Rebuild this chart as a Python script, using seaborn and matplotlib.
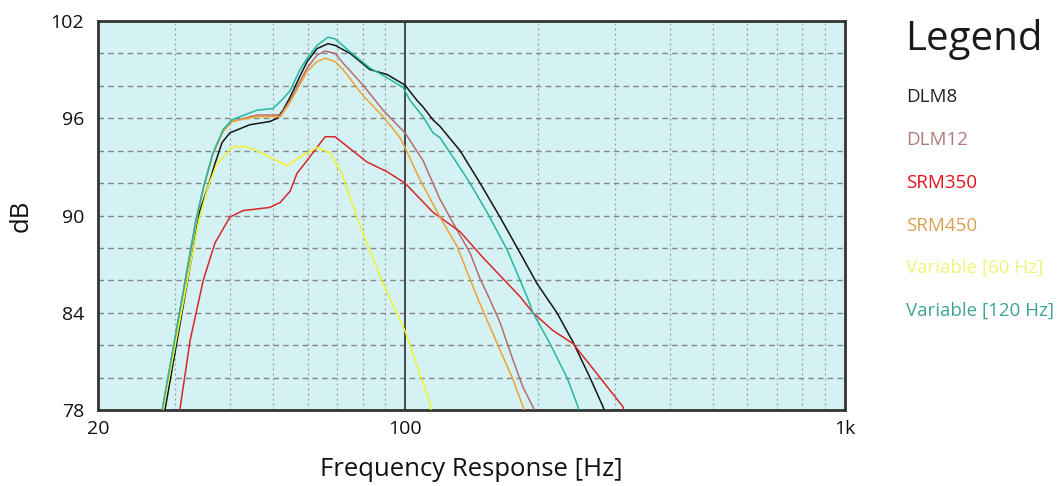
import numpy as np
import pandas as pd
import matplotlib
matplotlib.use("Agg")
import matplotlib.pyplot as plt
import seaborn as sns

# ---------------- data ----------------
series_names = ["DLM8", "DLM12", "SRM350", "SRM450", "Variable [60 Hz]", "Variable [120 Hz]"]

dlm8_f = [28.4, 34.1, 35.6, 36.9, 38.3, 39.9, 44.3, 49.2, 51.1, 52.7, 54.7, 57.6, 59.8, 63.0, 66.7,
          69.2, 74.9, 83.1, 90.9, 99.8, 106.3, 109.7, 115.6, 119.9, 133.2, 147.9, 164.2, 182.3,
          199.3, 221.2, 240.6, 263.0, 281.6, 284.0]
dlm8_db = [78.0, 90.3, 91.8, 93.2, 94.5, 95.1, 95.6, 95.8, 96.0, 96.5, 97.3, 98.6, 99.5, 100.3, 100.6,
           100.5, 100.0, 99.0, 98.7, 98.05, 97.1, 96.7, 95.9, 95.5, 94.0, 92.0, 89.9, 87.7,
           85.8, 84.0, 82.2, 80.0, 78.2, 77.9]

dlm12_f = [28.0, 33.4, 34.8, 36.5, 38.5, 40.3, 46.0, 52.0, 54.7, 59.8, 63.0, 65.7, 69.2, 72.2,
           80.1, 89.0, 99.8, 109.7, 119.9, 131.1, 140.3, 147.9, 155.8, 164.2, 175.7, 185.2, 195.1, 197.0]
dlm12_db = [78.0, 89.7, 91.8, 93.8, 95.2, 95.8, 96.2, 96.2, 97.1, 99.1, 99.9, 100.15, 100.0, 99.4,
            98.05, 96.5, 95.1, 93.4, 91.0, 89.1, 87.7, 86.1, 84.8, 83.4, 81.1, 79.4, 78.2, 77.9]

srm350_f = [30.7, 32.4, 34.7, 36.9, 39.9, 42.7, 49.2, 51.9, 54.7, 56.7, 59.8, 65.7, 69.2,
            81.8, 90.9, 99.8, 115.6, 133.2, 150.2, 182.3, 195.1, 216.7, 240.6, 277.2, 312.6, 315.0]
srm350_db = [78.0, 82.3, 86.0, 88.3, 89.9, 90.3, 90.5, 90.8, 91.5, 92.6, 93.4, 94.86, 94.86,
             93.3, 92.7, 92.0, 90.2, 89.0, 87.4, 85.0, 84.0, 82.9, 82.1, 80.0, 78.2, 77.9]

srm450_f = [28.0, 33.4, 34.8, 36.5, 38.5, 40.3, 46.0, 52.0, 54.7, 59.8, 63.0, 65.7, 69.2, 72.2,
            80.1, 89.0, 97.3, 99.8, 108.0, 119.9, 131.1, 146.5, 164.2, 175.7, 185.2, 187.0]
srm450_db = [78.0, 89.7, 91.8, 93.8, 95.2, 95.8, 96.1, 96.1, 97.0, 98.9, 99.5, 99.7, 99.5, 99.0,
             97.4, 96.1, 94.8, 94.2, 92.2, 89.9, 88.1, 84.8, 81.7, 79.9, 78.2, 77.9]

var60_f = [28.1, 33.9, 35.6, 37.3, 40.6, 43.6, 46.7, 53.8, 57.6, 63.0, 67.4, 71.8, 74.9, 78.1,
           80.1, 89.0, 99.8, 113.8, 114.5]
var60_db = [78.0, 89.7, 91.8, 93.2, 94.25, 94.25, 93.9, 93.07, 93.6, 94.2, 93.85, 92.6, 91.1, 89.7,
            88.9, 85.8, 82.9, 78.4, 77.9]

var120_f = [28.0, 33.4, 34.8, 36.5, 38.5, 40.3, 46.0, 50.0, 52.7, 54.7, 57.6, 59.8, 63.0, 66.7,
            69.2, 74.9, 83.1, 90.9, 98.8, 102.5, 109.7, 115.6, 119.9, 128.4, 140.3, 153.4, 170.3,
            189.1, 195.1, 213.3, 233.2, 247.0, 249.0]
var120_db = [78.0, 89.7, 91.8, 93.85, 95.3, 95.9, 96.5, 96.6, 97.2, 97.7, 99.0, 99.7, 100.5, 101.0,
             100.9, 100.1, 99.1, 98.5, 97.9, 97.1, 96.1, 95.1, 94.8, 93.6, 92.0, 90.2, 87.9,
             85.0, 84.0, 82.1, 80.0, 78.2, 77.9]

line_colors = ["#151515", "#B86C6C", "#D8262A", "#F0A232", "#F2F228", "#22B8A2"]
text_colors = ["#222222", "#B07A78", "#E5101C", "#D9A055", "#EEF47A", "#3DA594"]

x_ticks = [20, 100, 1000]
x_tick_labels = ["20", "100", "1k"]
y_ticks = [78, 84, 90, 96, 102]

# ---------------- build long-form table ----------------
all_f = [dlm8_f, dlm12_f, srm350_f, srm450_f, var60_f, var120_f]
all_db = [dlm8_db, dlm12_db, srm350_db, srm450_db, var60_db, var120_db]
frames = []
for name, f, d in zip(series_names, all_f, all_db):
    frames.append(pd.DataFrame({"freq": f, "db": d, "series": name}))
df = pd.concat(frames, ignore_index=True)

# ---------------- figure ----------------
sns.set_style("white")
plt.rcParams['font.family'] = ['Open Sans', 'DejaVu Sans']

fig = plt.figure(figsize=(10.59, 4.86), dpi=100)
ax = fig.add_axes([98 / 1059, 1 - 410 / 486, 747 / 1059, 389 / 486])
ax.set_facecolor("#D4F2F3")

# grid
for yv in range(80, 102, 2):
    ax.axhline(yv, color="#858585", lw=1.0, dashes=(4, 3), zorder=1)
minor_x = [30, 40, 50, 60, 70, 80, 90, 200, 300, 400, 500, 600, 700, 800, 900]
for xv in minor_x:
    ax.axvline(xv, color="#9a9a9a", lw=0.9, dashes=(1.5, 2.5), zorder=1)
ax.axvline(100, color="#3c3c3c", lw=1.3, zorder=1)

sns.lineplot(data=df, x="freq", y="db", hue="series", hue_order=series_names,
             palette=dict(zip(series_names, line_colors)), legend=False,
             estimator=None, ax=ax, linewidth=1.1, zorder=3)

ax.set_xscale("log")
ax.set_xlim(20, 1000)
ax.set_ylim(78, 102)
ax.set_xticks(x_ticks)
ax.set_xticklabels(x_tick_labels)
ax.xaxis.set_minor_locator(matplotlib.ticker.NullLocator())
ax.set_yticks(y_ticks)
ax.set_yticklabels([str(v) for v in y_ticks])
ax.tick_params(axis="both", length=0, labelsize=14, colors="#111111")
ax.tick_params(axis="x", pad=7)
ax.tick_params(axis="y", pad=10)

for sp in ax.spines.values():
    sp.set_color("#333333")
    sp.set_linewidth(2.0)
    sp.set_visible(True)

ax.set_xlabel("Frequency Response [Hz]", fontsize=18.5, labelpad=14, color="#111111")
ax.set_ylabel("dB", fontsize=18.5, labelpad=12, color="#111111")

# legend as text
fig.text(905 / 1059, 1 - 40 / 486, "Legend", fontsize=29, va="center", ha="left", color="#1a1a1a")
legend_y = [97, 140, 183, 226, 268, 311]
for name, col, yy in zip(series_names, text_colors, legend_y):
    fig.text(906 / 1059, 1 - yy / 486, name, fontsize=13.5, va="center", ha="left", color=col)

fig.savefig("out.png", dpi=100)
